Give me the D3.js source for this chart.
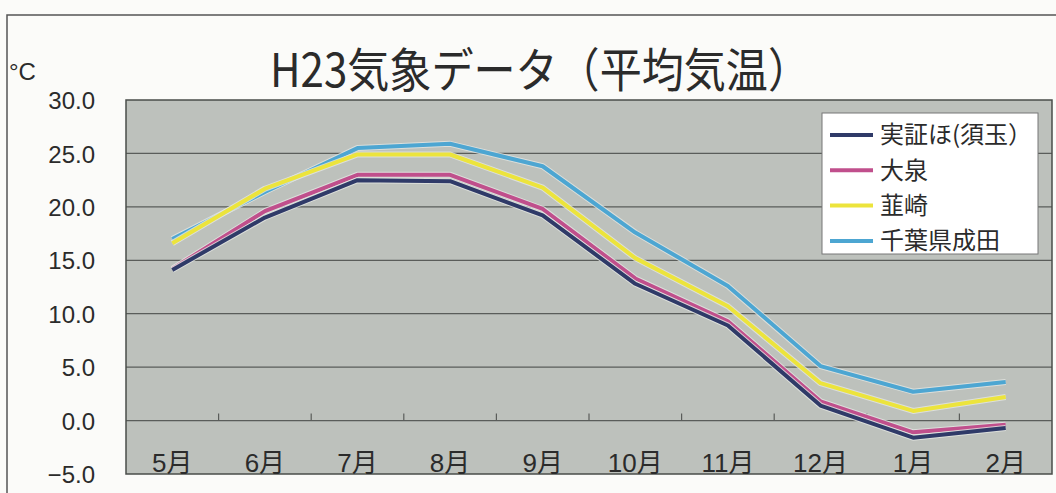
<!DOCTYPE html>
<html>
<head>
<meta charset="utf-8">
<script src="https://cdn.jsdelivr.net/npm/d3@7"></script>
<style>
  html, body { margin: 0; padding: 0; background: #fbfbf9; }
  svg { display: block; }
  text { fill: #2b2b2b; }
</style>
</head>
<body>
<svg id="chart" width="1056" height="493"></svg>
<script>
// Monthly mean temperature (°C), FY H23
const months = ["5月", "6月", "7月", "8月", "9月", "10月", "11月", "12月", "1月", "2月"];
const seriesNames = ["実証ほ(須玉）", "大泉", "韮崎", "千葉県成田"];
const sudama  = [14.1, 19.0, 22.5, 22.4, 19.2, 12.8, 8.9, 1.4, -1.6, -0.7];
const oizumi  = [14.2, 19.6, 23.0, 23.0, 19.8, 13.3, 9.3, 1.8, -1.1, -0.4];
const nirasaki = [16.6, 21.7, 24.9, 24.9, 21.8, 15.2, 10.7, 3.5, 0.9, 2.2];
const narita  = [17.0, 21.4, 25.5, 25.9, 23.8, 17.6, 12.6, 5.1, 2.7, 3.6];
const yTicks = [30, 25, 20, 15, 10, 5, 0, -5];
const colors = ["#2f3a68", "#c04f8c", "#ece43c", "#4da6d2"];

const CJK = '"Noto Sans CJK JP", "Noto Sans", sans-serif';
const LATIN = '"Liberation Sans", Arial, "Noto Sans CJK JP", sans-serif';

const svg = d3.select("#chart");
const W = 1056, H = 493;
const plot = { left: 126, right: 1052, top: 100, bottom: 474 };

// outer frame
svg.append("path")
  .attr("d", `M7,${H} L7,15 L${W},15`)
  .attr("fill", "none").attr("stroke", "#555").attr("stroke-width", 1.5);

const x = d3.scaleBand().domain(months).range([plot.left, plot.right]);
const y = d3.scaleLinear().domain([-5, 30]).range([plot.bottom, plot.top]);

// plot background
svg.append("rect")
  .attr("x", plot.left).attr("y", plot.top)
  .attr("width", plot.right - plot.left).attr("height", plot.bottom - plot.top)
  .attr("fill", "#bdc1bc");

// horizontal gridlines
svg.append("g").selectAll("line").data(yTicks.filter(v => v > -5 && v < 30)).join("line")
  .attr("x1", plot.left).attr("x2", plot.right)
  .attr("y1", d => y(d)).attr("y2", d => y(d))
  .attr("stroke", "#5a5d5a").attr("stroke-width", 1.2);

// plot border
svg.append("rect")
  .attr("x", plot.left).attr("y", plot.top)
  .attr("width", plot.right - plot.left).attr("height", plot.bottom - plot.top)
  .attr("fill", "none").attr("stroke", "#4a4d4a").attr("stroke-width", 1.5);

// category axis along 0 °C: ticks on band boundaries pointing up
const bounds = months.slice(1).map(m => x(m));
svg.append("g").selectAll("line").data(bounds).join("line")
  .attr("x1", d => d).attr("x2", d => d)
  .attr("y1", y(0)).attr("y2", y(0) - 7)
  .attr("stroke", "#5a5d5a").attr("stroke-width", 1.2);

svg.append("g").selectAll("text").data(months).join("text")
  .attr("x", d => x(d) + x.bandwidth() / 2)
  .attr("y", 472)
  .attr("text-anchor", "middle")
  .style("font-family", LATIN)
  .style("font-size", "26px")
  .text(d => d);

// value axis labels
const yAxis = d3.axisLeft(y).tickValues(yTicks)
  .tickFormat(d => d < 0 ? "\u2212" + d3.format(".1f")(-d) : d3.format(".1f")(d))
  .tickSize(0).tickPadding(0);
const ya = svg.append("g").attr("transform", `translate(95,0)`).call(yAxis);
ya.select(".domain").remove();
ya.selectAll("text")
  .style("font-family", LATIN).style("font-size", "24px")
  .attr("fill", "#2b2b2b").attr("dy", "0.36em");

// unit + title
svg.append("text").attr("x", 9).attr("y", 80)
  .style("font-family", LATIN).style("font-size", "24px").text("°C");
svg.append("text").attr("x", 270).attr("y", 87)
  .style("font-family", CJK).style("font-size", "47px").attr("fill", "#3a3a3a")
  .attr("textLength", 540).attr("lengthAdjust", "spacingAndGlyphs")
  .text("H23気象データ（平均気温）");

// series lines
const data = [sudama, oizumi, nirasaki, narita];
const line = d3.line()
  .x((d, i) => x(months[i]) + x.bandwidth() / 2)
  .y(d => y(d));
const order = [3, 2, 1, 0];
const lg = svg.append("g");
order.forEach(k => {
  lg.append("path").datum(data[k]).attr("d", line)
    .attr("fill", "none").attr("stroke", "#e4e6e2").attr("stroke-width", 6)
    .attr("stroke-linejoin", "round").attr("opacity", 0.8);
  lg.append("path").datum(data[k]).attr("d", line)
    .attr("fill", "none").attr("stroke", colors[k]).attr("stroke-width", 4)
    .attr("stroke-linejoin", "round");
});

// legend
const leg = svg.append("g");
leg.append("rect").attr("x", 822).attr("y", 113).attr("width", 216).attr("height", 141)
  .attr("fill", "#ffffff").attr("stroke", "#777").attr("stroke-width", 1);
seriesNames.forEach((name, i) => {
  const cy = 135 + i * 35.3;
  leg.append("line").attr("x1", 830).attr("x2", 873).attr("y1", cy).attr("y2", cy)
    .attr("stroke", colors[i]).attr("stroke-width", 4);
  leg.append("text").attr("x", 880).attr("y", cy).attr("dy", "0.35em")
    .style("font-family", CJK).style("font-size", "24px").text(name);
});
</script>
</body>
</html>
